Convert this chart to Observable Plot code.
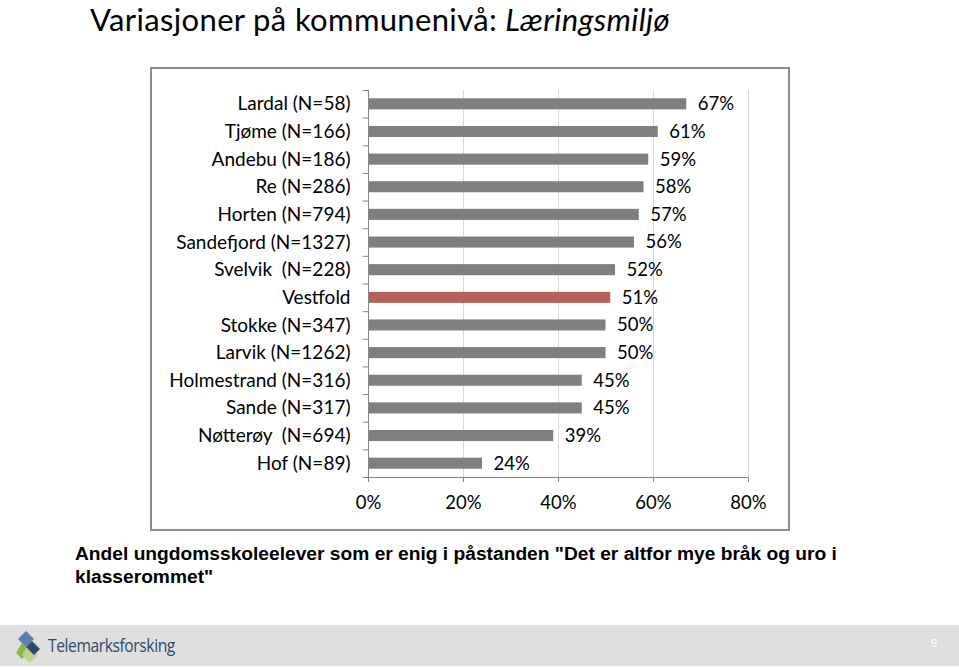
<!DOCTYPE html>
<html><head><meta charset="utf-8">
<script src="https://cdn.jsdelivr.net/npm/d3@7"></script>
<script src="https://cdn.jsdelivr.net/npm/@observablehq/plot@0.6"></script>
<style>
html,body{margin:0;padding:0;background:#fff;}
body{width:959px;height:667px;position:relative;overflow:hidden;font-family:Lato,"Open Sans",sans-serif;}
#title{position:absolute;left:90px;top:2px;font-size:31px;line-height:34px;letter-spacing:0.35px;color:#000;white-space:nowrap;}
#box{position:absolute;left:150px;top:67px;width:640px;height:464px;box-sizing:border-box;border:2px solid #8c8c8c;}
#chart{position:absolute;left:0;top:0;}
#caption{position:absolute;left:75px;top:542px;width:860px;font-family:"Liberation Sans",Arial,sans-serif;font-weight:bold;font-size:19.2px;line-height:23px;color:#000;}
#footer{position:absolute;left:0;top:625px;width:959px;height:41px;background:#dfdfdf;}
#logo{position:absolute;left:14px;top:4px;}
#logotext{position:absolute;left:48px;top:8px;font-family:"Open Sans",sans-serif;font-size:18px;letter-spacing:-0.5px;color:#2d4a6c;transform:scaleX(0.87);transform-origin:0 0;white-space:nowrap;}
#page{position:absolute;left:931px;top:12px;font-size:11px;color:#fff;font-family:"Liberation Sans",sans-serif;}
</style></head>
<body>
<div id="title">Variasjoner på kommunenivå: <i>Læringsmiljø</i></div>
<div id="box"><div id="chart"></div></div>
<div id="caption">Andel ungdomsskoleelever som er enig i påstanden "Det er altfor mye bråk og uro i klasserommet"</div>
<div id="footer">
<svg id="logo" width="34" height="34" viewBox="0 0 34 34">
<polygon points="12,2 20,10 12,18 4,10" fill="#5b7fa6"/>
<polygon points="8,14 16,22 8,30 2,24" fill="#8cb84a"/>
<polygon points="14,16 24,26 16,34 8,26" fill="#b9d58a"/>
<polygon points="18,12 26,20 20,26 12,18" fill="#2d4a6c"/>
</svg>
<div id="logotext">Telemarksforsking</div>
<div id="page">9</div>
</div>
<script>
const names = ["Lardal (N=58)","Tjøme (N=166)","Andebu (N=186)","Re (N=286)","Horten (N=794)","Sandefjord (N=1327)","Svelvik\u00a0 (N=228)","Vestfold","Stokke (N=347)","Larvik (N=1262)","Holmestrand (N=316)","Sande (N=317)","Nøtterøy\u00a0 (N=694)","Hof (N=89)"];
const values = [67,61,59,58,57,56,52,51,50,50,45,45,39,24];
const highlight = "Vestfold";
const xTicks = [0,20,40,60,80];

const data = names.map((n,i)=>({name:n, v:values[i]}));
const gray = "#7f7f7f", red = "#b5625c", axisColor = "#878787";
const H = 460, mt = 21, mb = 52;
const step = (H - mt - mb) / names.length;

const chart = Plot.plot({
  width: 636, height: H,
  marginLeft: 216, marginRight: 40, marginTop: mt, marginBottom: mb,
  style: {fontFamily: "Lato, 'Open Sans', sans-serif", fontSize: "17px", color: "#000", background: "transparent"},
  x: {domain: [0,80], label: null},
  y: {domain: names, paddingInner: 0.6, paddingOuter: 0.3, round: false, label: null},
  marks: [
    Plot.ruleX(xTicks.slice(1), {stroke: "#d9d9d9", strokeOpacity: 1}),
    Plot.barX(data, {x: "v", y: "name", fill: d => d.name === highlight ? red : gray}),
    Plot.text(data, {x: "v", y: "name", text: d => d.v + "%", textAnchor: "start", dx: 11, fontSize: 18.5}),
    Plot.ruleX([0], {stroke: axisColor, strokeOpacity: 1}),
    Plot.ruleY(names, {y: d => d, x1: -1.1, x2: 0, dy: step/2, stroke: axisColor, strokeOpacity: 1}),
    Plot.ruleY([names[0]], {y: d => d, x1: -1.1, x2: 0, dy: -step/2, stroke: axisColor, strokeOpacity: 1}),
    Plot.ruleY([names[names.length-1]], {y: d => d, x1: 0, x2: 80, dy: step/2, stroke: axisColor, strokeOpacity: 1}),
    Plot.axisY({tickSize: 0, tickPadding: 18, fontSize: 19}),
    Plot.axisX({ticks: xTicks, tickFormat: d => d + "%", tickSize: 5, tickPadding: 13, fontSize: 18.5, stroke: axisColor})
  ]
});
document.getElementById("chart").appendChild(chart);
</script>
</body></html>
